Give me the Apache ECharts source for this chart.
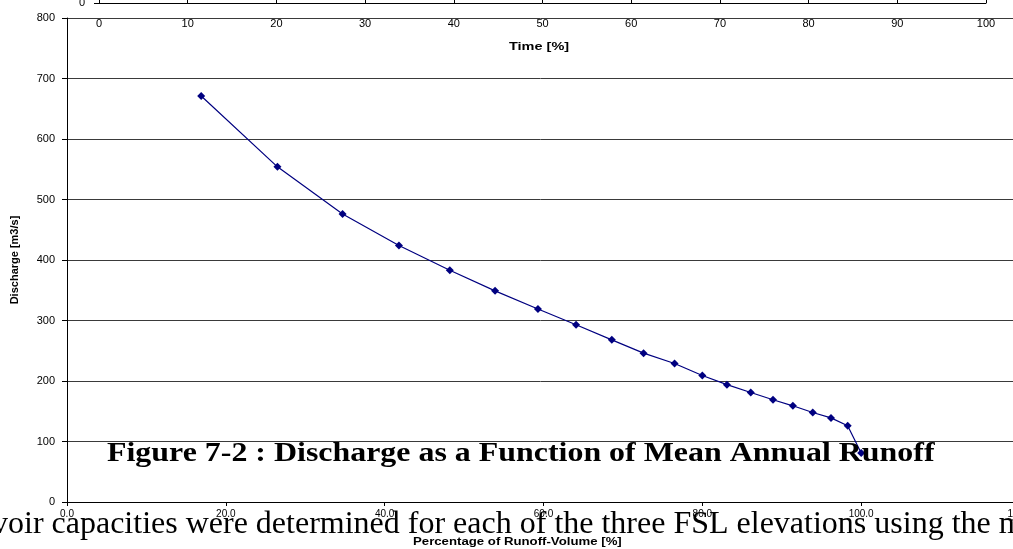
<!DOCTYPE html>
<html>
<head>
<meta charset="utf-8">
<script src="https://cdn.jsdelivr.net/npm/echarts@6/dist/echarts.min.js"></script>
<style>
html,body{margin:0;padding:0;background:#fff;}
#chart{width:1013px;height:549px;}
</style>
</head>
<body>
<div id="chart"></div>
<script>
// Data
const runoffPct = [16.9, 26.5, 34.7, 41.8, 48.2, 53.9, 59.3, 64.1, 68.6, 72.6, 76.5, 80.0, 83.1, 86.1, 88.9, 91.4, 93.9, 96.2, 98.3, 100.0];
const discharge = [671, 554, 476, 424, 383, 349, 319, 293, 268, 246, 229, 209, 194, 181, 169, 159, 148, 139, 126, 81];
const runoffTicks = [0, 20, 40, 60, 80, 100, 120];
const timeTicks = [0, 10, 20, 30, 40, 50, 60, 70, 80, 90, 100];
const dischargeTicks = [0, 100, 200, 300, 400, 500, 600, 700, 800];

const titleText = 'Figure 7-2 : Discharge as a Function of Mean Annual Runoff';
const bodyText = 'voir capacities were determined for each of the three FSL elevations using the m';
const xName = 'Percentage of Runoff-Volume [%]';
const timeName = 'Time [%]';
const yName = 'Discharge [m3/s]';

const chart = echarts.init(document.getElementById('chart'), null, {renderer: 'canvas'});
const font = 'Liberation Sans, Arial, sans-serif';

chart.setOption({
  animation: false,
  backgroundColor: '#ffffff',
  grid: [
    {left: 67, top: 18, width: 953, height: 484, containLabel: false, outerBoundsMode: 'none'},
    {left: 99, top: 18, width: 887, height: 484, containLabel: false, outerBoundsMode: 'none'},
    {left: 99, top: -100, width: 887, height: 103, containLabel: false, outerBoundsMode: 'none'}
  ],
  xAxis: [
    {
      gridIndex: 0, type: 'value',
      min: runoffTicks[0], max: runoffTicks[runoffTicks.length - 1], interval: 20,
      axisLine: {lineStyle: {color: '#000', width: 1}},
      axisTick: {show: true, length: 4, lineStyle: {color: '#000'}},
      axisLabel: {fontFamily: font, fontSize: 10, color: '#000', margin: 7,
        formatter: v => v.toFixed(1), showMaxLabel: true},
      splitLine: {show: false}
    },
    {
      gridIndex: 1, type: 'value', position: 'top',
      min: timeTicks[0], max: timeTicks[timeTicks.length - 1], interval: 10,
      axisLine: {show: false},
      axisTick: {show: false},
      axisLabel: {inside: true, fontFamily: font, fontSize: 11, color: '#000', margin: 0},
      splitLine: {show: false}
    },
    {
      gridIndex: 2, type: 'value',
      min: timeTicks[0], max: timeTicks[timeTicks.length - 1], interval: 10,
      axisLine: {lineStyle: {color: '#000', width: 1}},
      axisTick: {show: true, inside: true, length: 3, lineStyle: {color: '#000'}},
      axisLabel: {show: false},
      splitLine: {show: false}
    }
  ],
  yAxis: [
    {
      gridIndex: 0, type: 'value',
      min: dischargeTicks[0], max: dischargeTicks[dischargeTicks.length - 1], interval: 100,
      name: yName, nameLocation: 'middle', nameGap: 47, nameRotate: 90,
      nameTextStyle: {fontFamily: font, fontSize: 11, fontWeight: 'bold', color: '#000'},
      axisLine: {show: true, lineStyle: {color: '#000', width: 1}},
      axisTick: {show: true, length: 5, lineStyle: {color: '#000'}},
      axisLabel: {fontFamily: font, fontSize: 11, color: '#000', margin: 12},
      splitLine: {show: true, lineStyle: {color: '#3a3a3a', width: 1}}
    },
    {
      gridIndex: 1, type: 'value', min: 0, max: 800, show: false
    },
    {
      gridIndex: 2, type: 'value', min: 0, max: 800, interval: 100,
      axisLine: {show: true, lineStyle: {color: '#000', width: 1}},
      axisTick: {show: true, length: 5, lineStyle: {color: '#000'}},
      axisLabel: {fontFamily: font, fontSize: 11, color: '#000', margin: 14},
      splitLine: {show: false}
    }
  ],
  series: [
    {
      type: 'line',
      xAxisIndex: 0, yAxisIndex: 0,
      data: runoffPct.map((x, i) => [x, discharge[i]]),
      symbol: 'diamond', symbolSize: 8,
      lineStyle: {color: '#000080', width: 1.2},
      itemStyle: {color: '#000080'},
      z: 5
    }
  ],
  graphic: [
    {
      type: 'text', x: 509, y: 42, scaleX: 1.45, z: 50,
      style: {text: timeName, font: 'bold 10px "Liberation Sans", Arial, sans-serif', fill: '#000'}
    },
    {
      type: 'text', x: 413, y: 537, scaleX: 1.32, z: 50,
      style: {text: xName, font: 'bold 10px "Liberation Sans", Arial, sans-serif', fill: '#000'}
    },
    {
      type: 'text', x: 107, y: 440, scaleX: 1.14, z: 100,
      style: {text: titleText, font: 'bold 28px "Liberation Serif", "Times New Roman", serif', fill: '#000'}
    },
    {
      type: 'text', x: -8, y: 509, z: 100,
      style: {text: bodyText, font: '32px "Liberation Serif", "Times New Roman", serif', fill: '#000'}
    }
  ]
});
</script>
</body>
</html>
